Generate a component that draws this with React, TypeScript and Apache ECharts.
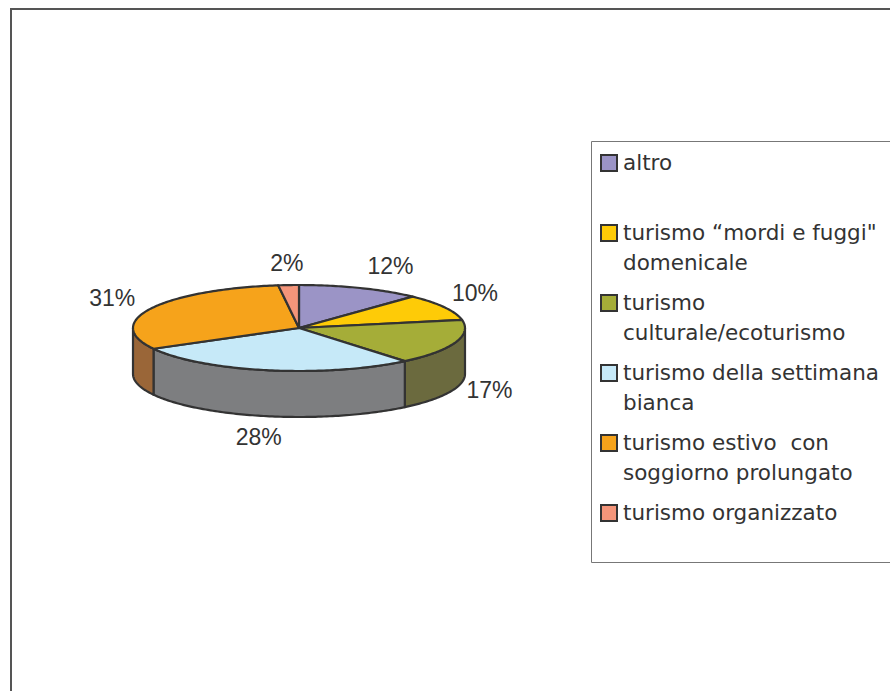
import React, { useEffect, useRef } from "react";
import * as echarts from "echarts";

// ---- data ----
const categories = [
  "altro",
  "turismo “mordi e fuggi\"\ndomenicale",
  "turismo\nculturale/ecoturismo",
  "turismo della settimana\nbianca",
  "turismo estivo  con\nsoggiorno prolungato",
  "turismo organizzato",
];
const values = [12, 10, 17, 28, 31, 2];

// ---- style ----
const topColors = ["#9B94C6", "#FECB07", "#A5AD38", "#C6E9F8", "#F6A31B", "#F4957A"];
const sideColors = ["#5E5A7A", "#9A7A05", "#6B6A3E", "#7D7E80", "#9A6638", "#94594A"];
const labelNudge = [
  [20, -2],
  [6, -4],
  [8, -6],
  [-4, -1],
  [-14, 0],
  [0, 0],
];
const CX = 299;
const CY = 328;
const RX = 166;
const RY = 43;
const DEPTH = 46;
const STROKE = "#333333";

const total = values.reduce((a, b) => a + b, 0);
const cum: number[] = [];
values.reduce((acc, v, i) => {
  cum[i] = acc;
  return acc + v;
}, 0);

function pt(t: number, dy = 0): number[] {
  return [CX + RX * Math.sin(t), CY - RY * Math.cos(t) + dy];
}

function arcPoints(a: number, b: number, dy = 0): number[][] {
  const pts: number[][] = [];
  const n = Math.max(2, Math.ceil(((b - a) * 180) / Math.PI));
  for (let k = 0; k <= n; k++) pts.push(pt(a + ((b - a) * k) / n, dy));
  return pts;
}

export default function App() {
  const ref = useRef<HTMLDivElement>(null);
  useEffect(() => {
    if (!ref.current) return;
    const chart = echarts.init(ref.current, undefined, { renderer: "svg" });

    const legendEls: any[] = [];
    categories.forEach((c, i) => {
      legendEls.push({
        type: "rect",
        shape: { x: 601, y: 155 + 70 * i, width: 16, height: 16 },
        style: { fill: topColors[i], stroke: STROKE, lineWidth: 2 },
      });
      legendEls.push({
        type: "text",
        x: 623,
        y: 147 + 70 * i,
        style: {
          text: c,
          font: '21.5px "DejaVu Sans"',
          fill: "#333333",
          lineHeight: 30,
          verticalAlign: "top",
          align: "left",
        },
      });
    });

    const option: any = {
      animation: false,
      backgroundColor: "#ffffff",
      graphic: [
        {
          type: "rect",
          shape: { x: 11, y: 9, width: 900, height: 700 },
          style: { fill: "none", stroke: "#555555", lineWidth: 2 },
          silent: true,
        },
        {
          type: "rect",
          shape: { x: 591.5, y: 141.5, width: 320, height: 421 },
          style: { fill: "none", stroke: "#777777", lineWidth: 1 },
          silent: true,
        },
        ...legendEls,
      ],
      series: [
        {
          type: "custom",
          coordinateSystem: "none",
          silent: true,
          data: values.map((v, i) => ({ name: categories[i], value: v })),
          renderItem: (params: any, api: any) => {
            const i = params.dataIndex;
            const v = api.value(0);
            const a = (cum[i] / total) * Math.PI * 2;
            const b = a + (v / total) * Math.PI * 2;
            const children: any[] = [];
            // outer wall (front half: 90..270 deg)
            const fa = Math.max(a, Math.PI / 2);
            const fb = Math.min(b, (Math.PI * 3) / 2);
            if (fb > fa) {
              const topArc = arcPoints(fa, fb);
              const botArc = arcPoints(fa, fb, DEPTH).reverse();
              children.push({
                type: "polygon",
                z2: 1,
                shape: { points: topArc.concat(botArc) },
                style: { fill: sideColors[i], stroke: STROKE, lineWidth: 2.2, lineJoin: "round" },
              });
            }
            // top face
            children.push({
              type: "polygon",
              z2: 10,
              shape: { points: [[CX, CY]].concat(arcPoints(a, b)) },
              style: { fill: topColors[i], stroke: STROKE, lineWidth: 2.2, lineJoin: "round" },
            });
            // percentage label
            const m = (a + b) / 2;
            const s = Math.sin(m);
            const c = Math.cos(m);
            const lx = CX + (RX + 28) * s + labelNudge[i][0];
            const ly = CY - (RY + 22) * c + (c < 0 ? DEPTH : 0) + labelNudge[i][1];
            children.push({
              type: "text",
              z2: 20,
              x: lx,
              y: ly,
              style: {
                text: Math.round((v / total) * 100) + "%",
                font: '23px "Liberation Sans"',
                fill: "#333333",
                align: "center",
                verticalAlign: "middle",
              },
            });
            return { type: "group", children };
          },
        },
      ],
    };
    chart.setOption(option);
    return () => chart.dispose();
  }, []);
  return (
    <div
      ref={ref}
      style={{ position: "absolute", left: 0, top: 0, width: 890, height: 691 }}
    />
  );
}
